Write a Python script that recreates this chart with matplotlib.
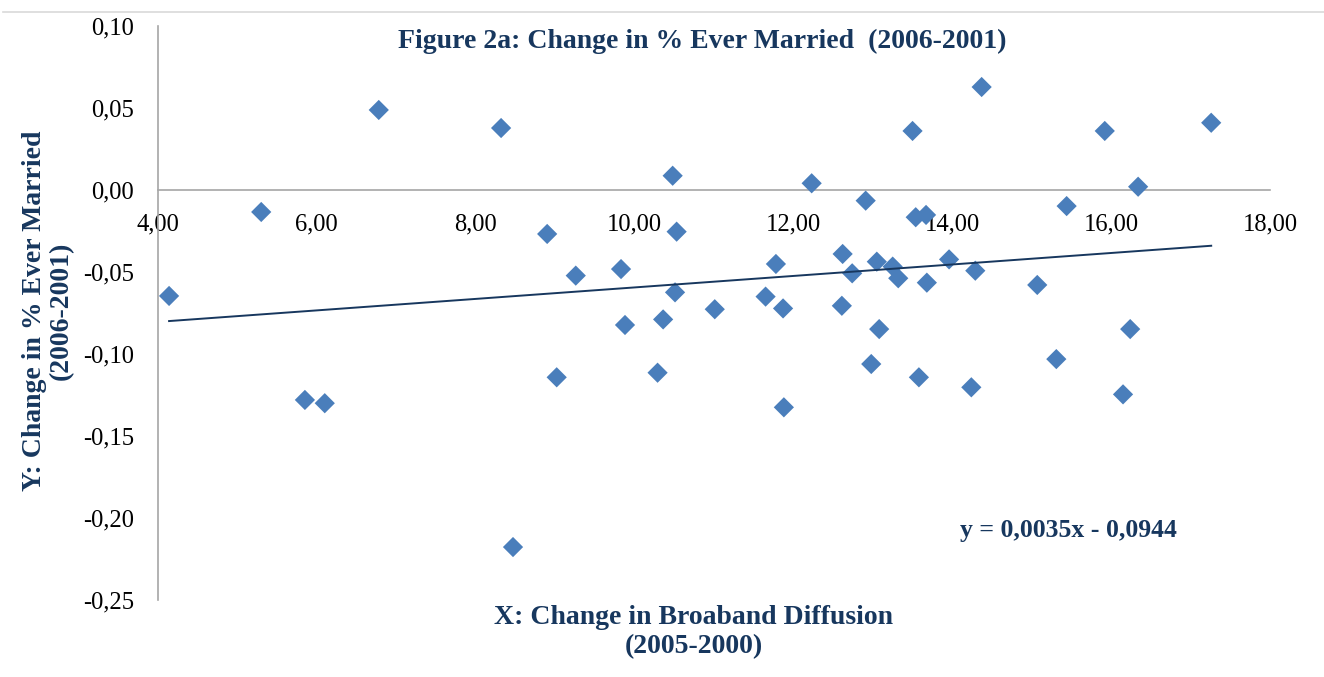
import matplotlib
matplotlib.use("Agg")
import matplotlib.pyplot as plt
import numpy as np
from matplotlib.lines import Line2D

# ---- data ----
broadband_change = [4.14, 5.30, 6.78, 5.85, 6.10, 8.32, 8.90, 9.26, 9.02, 8.47,
                    9.83, 9.88, 10.48, 10.53, 10.51, 10.36, 10.29, 11.01, 11.65, 11.78,
                    11.87, 11.88, 12.23, 12.62, 12.61, 12.74, 12.91, 12.98, 13.05, 13.08,
                    13.25, 13.32, 13.50, 13.54, 13.67, 13.58, 13.68, 13.96, 14.37, 14.29,
                    14.24, 15.07, 15.31, 15.44, 15.92, 16.34, 16.24, 16.15, 17.26]
married_change = [-0.0646, -0.0134, 0.0488, -0.1280, -0.1300, 0.0378, -0.0268, -0.0522, -0.1142, -0.2177,
                  -0.0482, -0.0823, 0.0087, -0.0254, -0.0624, -0.0789, -0.1114, -0.0727, -0.0650, -0.0451,
                  -0.0722, -0.1325, 0.0041, -0.0390, -0.0706, -0.0508, -0.0065, -0.1061, -0.0437, -0.0848,
                  -0.0467, -0.0538, 0.0360, -0.0166, -0.0152, -0.1142, -0.0565, -0.0423, 0.0628, -0.0492,
                  -0.1203, -0.0579, -0.1031, -0.0098, 0.0360, 0.0020, -0.0848, -0.1246, 0.0410]
trend_slope = 0.0035
trend_intercept = -0.0944
x_ticks = [4, 6, 8, 10, 12, 14, 16, 18]
y_ticks = [-0.25, -0.20, -0.15, -0.10, -0.05, 0.00, 0.05, 0.10]

title = "Figure 2a: Change in % Ever Married  (2006-2001)"
x_label = "X: Change in Broaband Diffusion\n(2005-2000)"
y_label = "Y: Change in % Ever Married\n(2006-2001)"
eq_text = "y = 0,0035x - 0,0944"

# ---- styling ----
serif = ["Liberation Serif", "DejaVu Serif"]
navy = "#17375E"
marker_blue = "#4A7EBB"
axis_grey = "#A6A6A6"

plt.rcParams["font.family"] = serif

fig = plt.figure(figsize=(13.24, 6.77), dpi=100)
ax = fig.add_axes([0.1193, 0.1137, 0.9592 - 0.1193, 0.9616 - 0.1137])

ax.scatter(broadband_change, married_change, marker="D", s=10.3 ** 2,
           color=marker_blue, edgecolors="none", zorder=3)

xmin, xmax = min(broadband_change), max(broadband_change)
tx = np.array([xmin, xmax])
ax.plot(tx, trend_slope * tx + trend_intercept, color=navy, lw=1.4, zorder=4)

ax.set_xlim(4, 18)
ax.set_ylim(-0.25, 0.10)
ax.set_xticks(x_ticks)
ax.set_yticks(y_ticks)
ax.set_xticklabels([f"{v:.2f}".replace(".", ",") for v in x_ticks])
ax.set_yticklabels([f"{v:.2f}".replace(".", ",") for v in y_ticks])

for s in ["top", "right"]:
    ax.spines[s].set_visible(False)
ax.spines["bottom"].set_position(("data", 0))
ax.spines["bottom"].set_color(axis_grey)
ax.spines["left"].set_color(axis_grey)
ax.spines["bottom"].set_linewidth(1.2)
ax.spines["left"].set_linewidth(1.2)

ax.tick_params(axis="both", length=0, labelsize=17.7, colors="black")
ax.tick_params(axis="x", pad=17)
ax.tick_params(axis="y", pad=17)
ax.patch.set_alpha(0)

# title
fig.text(702 / 1324, 1 - 41 / 677, title, ha="center", va="center",
         fontsize=20, fontweight="bold", color=navy)
# axis labels
fig.text(48 / 1324, 1 - 311 / 677, y_label, ha="center", va="center",
         rotation=90, fontsize=20, fontweight="bold", color=navy,
         linespacing=1.12, multialignment="center")
fig.text(694 / 1324, 1 - 632 / 677, x_label, ha="center", va="center",
         fontsize=20, fontweight="bold", color=navy, linespacing=1.25,
         multialignment="center")
# equation
fig.text(1068 / 1324, 1 - 531 / 677, eq_text, ha="center", va="center",
         fontsize=18.5, fontweight="bold", color=navy)

# top border line
fig.add_artist(Line2D([3 / 1324, 1.0], [1 - 12 / 677, 1 - 12 / 677],
                      color="#D9D9D9", lw=1.2, transform=fig.transFigure))

fig.savefig("out.png", dpi=100)
